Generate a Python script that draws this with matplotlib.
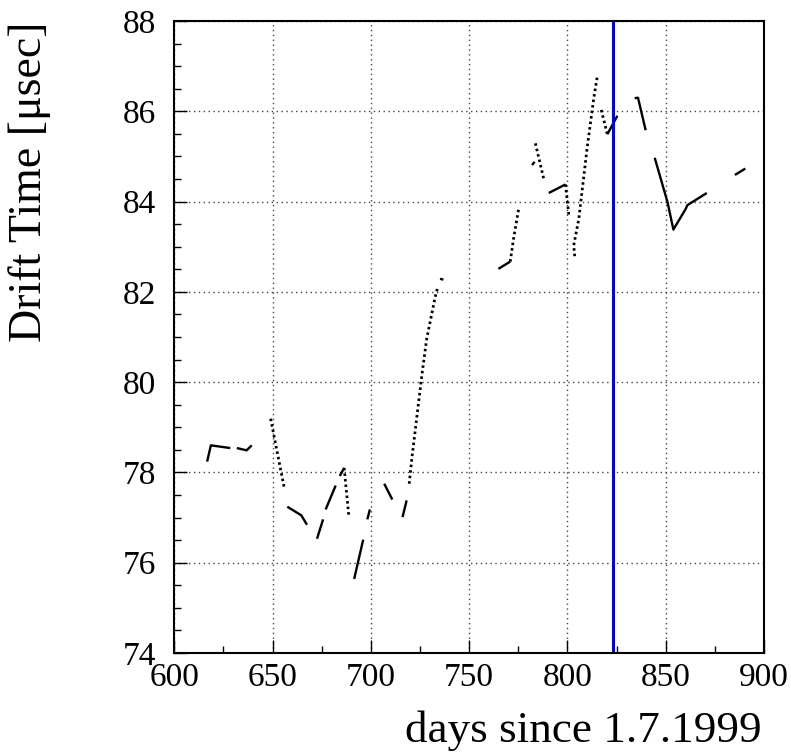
import matplotlib
matplotlib.use("Agg")
import matplotlib.pyplot as plt
from matplotlib.ticker import MultipleLocator

plt.rcParams['font.family'] = ['Liberation Serif', 'DejaVu Serif']

# Data segments (days since 1.7.1999, drift time in usec)
seg_x = [
    [616.7, 618.6, 628.5],
    [631.8, 636.8, 639.4],
    [649.0, 656.1],
    [657.5, 664.6, 667.5],
    [672.6, 675.7],
    [677.0, 682.1],
    [684.2, 686.4],
    [686.4, 688.8],
    [691.5, 696.1],
    [698.2, 699.5],
    [706.8, 710.9],
    [716.1, 718.2],
    [719.5, 720.8, 725.9, 728.4, 732.7, 734.0],
    [735.2, 736.9],
    [764.9, 770.9],
    [770.9, 772.6, 775.2],
    [782.0, 783.3],
    [783.7, 787.9],
    [790.5, 799.0],
    [799.0, 800.7],
    [803.7, 803.2, 805.8, 810.0, 813.4, 815.1],
    [817.2, 820.3],
    [820.3, 825.4],
    [834.2, 835.9, 839.8],
    [844.4, 850.9, 853.9, 860.2, 861.0, 870.9],
    [885.2, 890.5],
]
seg_y = [
    [78.24, 78.60, 78.54],
    [78.54, 78.49, 78.60],
    [79.19, 77.62],
    [77.24, 77.05, 76.84],
    [76.53, 76.96],
    [77.18, 77.71],
    [77.92, 78.10],
    [78.10, 77.03],
    [75.64, 76.51],
    [76.96, 77.18],
    [77.75, 77.40],
    [77.01, 77.38],
    [77.75, 78.29, 80.14, 80.96, 81.88, 82.10],
    [82.29, 82.27],
    [82.51, 82.67],
    [82.67, 83.18, 83.84],
    [84.81, 84.88],
    [85.29, 84.51],
    [84.19, 84.38],
    [84.38, 83.70],
    [82.79, 83.03, 83.62, 85.18, 86.29, 86.75],
    [86.03, 85.49],
    [85.49, 85.90],
    [86.29, 86.30, 85.58],
    [84.97, 83.99, 83.38, 83.84, 83.92, 84.19],
    [84.59, 84.73],
]
seg_dense = [True, True, False, True, True, True, True, False, True, True,
             True, True, False, True, True, False, True, False, True, False,
             False, False, True, True, True, True]

marker_day = 823.3

x_ticks = [600, 650, 700, 750, 800, 850, 900]
y_ticks = [74, 76, 78, 80, 82, 84, 86, 88]

fig = plt.figure(figsize=(7.91, 7.54), dpi=100)
ax = fig.add_axes([174.3 / 791, 1 - 653 / 754, (764 - 174.3) / 791, (653 - 21) / 754])

for xs, ys, dense in zip(seg_x, seg_y, seg_dense):
    if dense:
        ax.plot(xs, ys, color='black', lw=1.7, ls='-', solid_capstyle='butt')
    else:
        ax.plot(xs, ys, color='black', lw=2.0, ls=(0, (0.9, 1.1)))

ax.axvline(marker_day, color='#0000ff', lw=2.2)

ax.set_xlim(600, 900)
ax.set_ylim(74, 88)
ax.set_xticks(x_ticks)
ax.set_yticks(y_ticks)
ax.xaxis.set_minor_locator(MultipleLocator(25))
ax.yaxis.set_minor_locator(MultipleLocator(0.5))
ax.tick_params(which='major', direction='in', length=9.5, width=1, labelsize=24,
               top=False, right=False)
ax.tick_params(which='minor', direction='in', length=5, width=1, top=False, right=False)
ax.tick_params(axis='x', which='major', pad=7)
ax.tick_params(axis='y', which='major', pad=13)
ax.grid(True, which='major', color='#444444', ls=(0, (1, 2.5)), lw=1)

for s in ax.spines.values():
    s.set_linewidth(1.5)
    s.set_color('black')

fig.text(762 / 791, 1 - 742 / 754, 'days since 1.7.1999', ha='right', va='baseline', fontsize=32.5)
fig.text(8 / 791, 1 - 22 / 754, 'Drift Time [\u03bcsec]', rotation=90, ha='left', va='top', fontsize=33)

fig.savefig('out.png', dpi=100)
